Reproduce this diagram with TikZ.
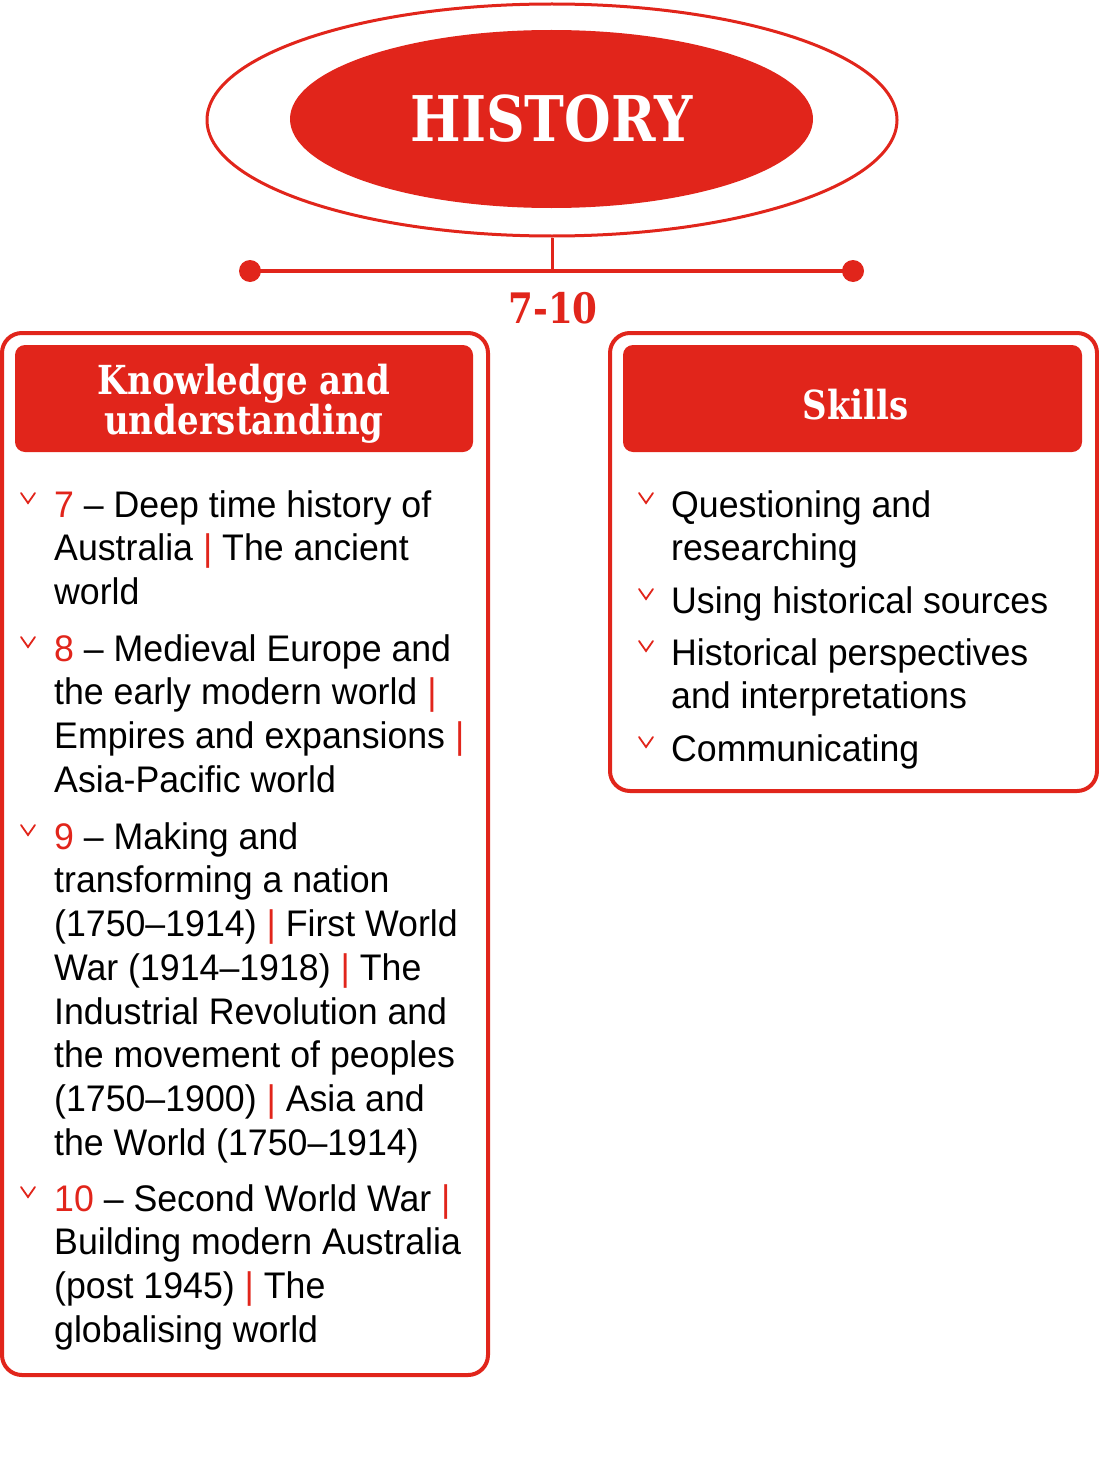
\documentclass[tikz,border=0pt]{standalone}
\usepackage{fontspec}
\setmainfont[FakeStretch=0.965]{Liberation Sans}
\newfontfamily\slab[FakeStretch=0.85]{DejaVu Serif}
\usetikzlibrary{shapes.geometric}
\definecolor{hred}{RGB}{225,37,27}
\newcommand{\rd}[1]{\textcolor{hred}{#1}}
\newcommand{\redbar}{\textcolor{hred}{|}}
\tikzset{
  frame/.style={draw=hred, line width=4pt, rounded corners=20pt, inner sep=0pt},
  headbox/.style={fill=hred, rounded corners=10pt, inner sep=0pt},
  headtext/.style={text=white, inner sep=0pt,
    font=\slab\bfseries\fontsize{40}{40}\selectfont, align=center},
  item/.style={anchor=north west, inner sep=0pt, align=left,
    font=\fontsize{37}{43.7}\selectfont},
  chev/.pic={\draw[hred, line width=1.8pt, line cap=round, line join=miter] (-7,-5) -- (0,5) -- (7,-5);},
  conn/.style={draw=hred, line width=3.5pt}
}
\begin{document}
\begin{tikzpicture}[x=1pt,y=-1pt]
\useasboundingbox (0,0) rectangle (1099,1477);
% title
\node[ellipse, draw=hred, line width=3pt, minimum width=690pt, minimum height=232pt, inner sep=0pt] (outer) at (552,120) {};
\node[ellipse, fill=hred, minimum width=523pt, minimum height=178pt, inner sep=0pt,
  text=white, font=\slab\bfseries\fontsize{63}{63}\selectfont] (history) at (551.5,119) {HISTORY};
\coordinate (hub) at (552,271);
\coordinate (dotL) at (250,271);
\coordinate (dotR) at (853,271);
\draw[conn, line width=3pt] (outer.south) -- (hub);
\draw[conn] (dotL) -- (dotR);
\fill[hred] (dotL) circle (11pt);
\fill[hred] (dotR) circle (11pt);
\node[text=hred, font=\slab\bfseries\fontsize{42}{42}\selectfont, inner sep=0pt] (grades) at (553,308) {7-10};
% boxes
\node[frame, minimum width=486pt, minimum height=1042pt] (kbox) at (245,854) {};
\node[frame, minimum width=487pt, minimum height=458pt] (sbox) at (853.5,562) {};
\node[headbox, minimum width=458pt, minimum height=107pt] (khead) at (244,398.5) {};
\node[headbox, minimum width=459pt, minimum height=107pt] (shead) at (852.5,398.5) {};
\node[headtext] (khtext) at ([yshift=-5pt]khead.center) {Knowledge and\\understanding};
\node[headtext] (shtext) at ([yshift=-6pt,xshift=3pt]shead.center) {Skills};
% left items
\node[item] (k7) at (54,487) {\rule{0pt}{30pt}\rd{7} – Deep time history of\\Australia \redbar{} The ancient\\world};
\node[item] (k8) at (54,631) {\rule{0pt}{30pt}\rd{8} – Medieval Europe and\\the early modern world \redbar\\Empires and expansions \redbar\\Asia-Pacific world};
\node[item] (k9) at (54,819) {\rule{0pt}{30pt}\rd{9} – Making and\\transforming a nation\\(1750–1914) \redbar{} First World\\War (1914–1918) \redbar{} The\\Industrial Revolution and\\the movement of peoples\\(1750–1900) \redbar{} Asia and\\the World (1750–1914)};
\node[item] (k10) at (54,1181) {\rule{0pt}{30pt}\rd{10} – Second World War \redbar\\Building modern Australia\\(post 1945) \redbar{} The\\globalising world};
\pic at (28,498) {chev};
\pic at (28,642) {chev};
\pic at (28,830) {chev};
\pic at (28,1192) {chev};
% right items
\node[item] (s1) at (671,487) {\rule{0pt}{30pt}Questioning and\\researching};
\node[item] (s2) at (671,583) {\rule{0pt}{30pt}Using historical sources};
\node[item] (s3) at (671,635) {\rule{0pt}{30pt}Historical perspectives\\and interpretations};
\node[item] (s4) at (671,731) {\rule{0pt}{30pt}Communicating};
\pic at (646,498) {chev};
\pic at (646,594) {chev};
\pic at (646,646) {chev};
\pic at (646,742) {chev};
\end{tikzpicture}
\end{document}
